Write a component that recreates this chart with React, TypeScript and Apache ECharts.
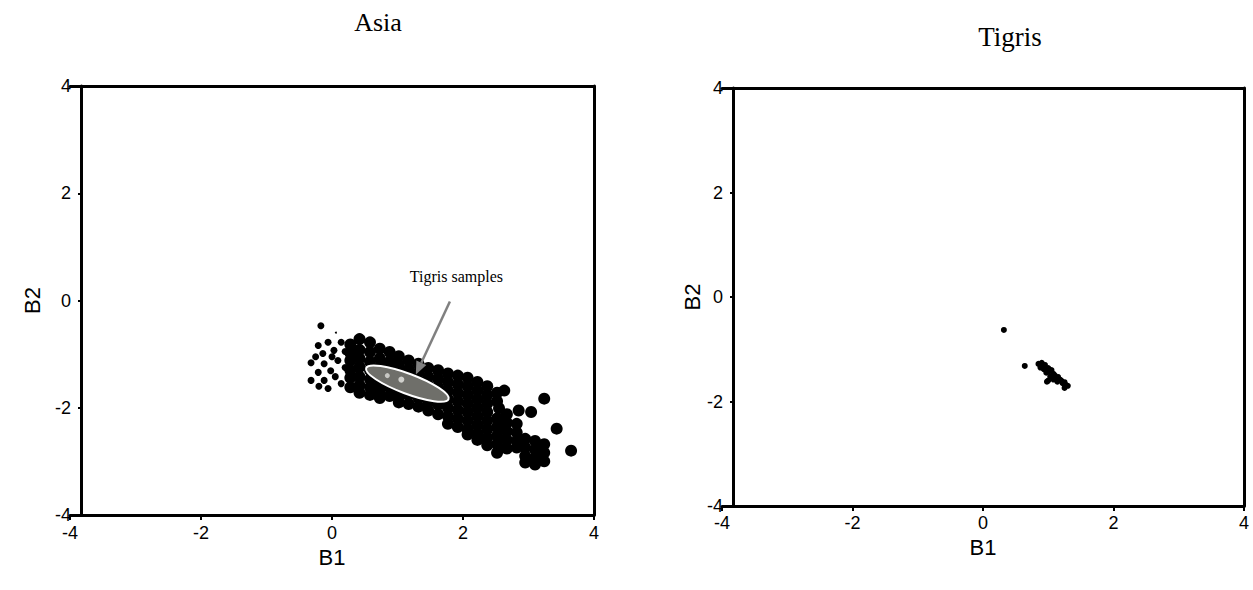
import React, { useEffect, useRef } from "react";
import * as echarts from "echarts";

const axisMin = -4;
const axisMax = 4;
const tickInterval = 2;

const titles = ["Asia", "Tigris"];
const axisNames = ["B1", "B2"];
const annotationText = "Tigris samples";

// Asia – small markers on the left edge of the cloud
const asiaSmall: [number, number][] = [
  [-0.17, -0.47], [-0.21, -0.84], [-0.06, -0.78], [0.14, -0.78], [-0.14, -0.99],
  [0.03, -0.93], [-0.32, -1.16], [-0.12, -1.18], [0.09, -1.12], [-0.21, -1.34],
  [-0.02, -1.31], [-0.32, -1.49], [-0.12, -1.49], [-0.06, -1.64], [0.14, -1.55],
  [-0.25, -1.05], [0.0, -1.05], [0.05, -1.42], [-0.2, -1.6], [0.2, -1.25],
  [0.2, -0.95],
];

// Asia – tiny isolated mark
const asiaTiny: [number, number][] = [[0.06, -0.6]];

// Asia – large markers forming the main band
const asiaLarge: [number, number][] = [
  [0.28, -0.82], [0.28, -0.98], [0.28, -1.12], [0.28, -1.3], [0.28, -1.44], [0.28, -1.62],
  [0.42, -0.72], [0.42, -0.92], [0.42, -1.08], [0.42, -1.24], [0.42, -1.42], [0.42, -1.58], [0.42, -1.72],
  [0.58, -0.78], [0.58, -0.96], [0.58, -1.14], [0.58, -1.3], [0.58, -1.47], [0.58, -1.62], [0.58, -1.76],
  [0.73, -0.9], [0.73, -1.08], [0.73, -1.24], [0.73, -1.42], [0.73, -1.56], [0.73, -1.7], [0.73, -1.82],
  [0.88, -0.96], [0.88, -1.14], [0.88, -1.3], [0.88, -1.46], [0.88, -1.62], [0.88, -1.78],
  [1.02, -1.04], [1.02, -1.2], [1.02, -1.36], [1.02, -1.52], [1.02, -1.66], [1.02, -1.82], [1.02, -1.9],
  [1.17, -1.12], [1.17, -1.28], [1.17, -1.44], [1.17, -1.6], [1.17, -1.76], [1.17, -1.93],
  [1.32, -1.18], [1.32, -1.34], [1.32, -1.5], [1.32, -1.66], [1.32, -1.82], [1.32, -1.98],
  [1.47, -1.26], [1.47, -1.42], [1.47, -1.58], [1.47, -1.74], [1.47, -1.9], [1.47, -2.05],
  [1.62, -1.3], [1.62, -1.46], [1.62, -1.62], [1.62, -1.78], [1.62, -1.94], [1.62, -2.12],
  [1.77, -1.36], [1.77, -1.52], [1.77, -1.68], [1.77, -1.84], [1.77, -2.0], [1.77, -2.16], [1.77, -2.3],
  [1.92, -1.4], [1.92, -1.56], [1.92, -1.72], [1.92, -1.88], [1.92, -2.04], [1.92, -2.2], [1.92, -2.36],
  [2.07, -1.44], [2.07, -1.6], [2.07, -1.76], [2.07, -1.92], [2.07, -2.08], [2.07, -2.24], [2.07, -2.4], [2.07, -2.5],
  [2.22, -1.52], [2.22, -1.68], [2.22, -1.84], [2.22, -2.0], [2.22, -2.16], [2.22, -2.32], [2.22, -2.48], [2.22, -2.6],
  [2.37, -1.6], [2.37, -1.76], [2.37, -1.92], [2.37, -2.08], [2.37, -2.24], [2.37, -2.4], [2.37, -2.56], [2.37, -2.7],
  [2.52, -1.72], [2.52, -1.88], [2.52, -2.2], [2.52, -2.36], [2.52, -2.52], [2.52, -2.68], [2.52, -2.84],
  [2.67, -2.12], [2.67, -2.28], [2.67, -2.44], [2.67, -2.6], [2.67, -2.76],
  [2.82, -2.3], [2.82, -2.46], [2.82, -2.62], [2.82, -2.74],
  [2.95, -2.58], [2.95, -2.74], [2.95, -2.9], [2.95, -3.02],
  [3.1, -2.62], [3.1, -2.78], [3.1, -2.94], [3.1, -3.06],
  [3.24, -2.68], [3.24, -2.84], [3.24, -3.0],
  [2.63, -1.68], [2.55, -2.01], [2.85, -2.05], [3.04, -2.08], [3.24, -1.83],
  [3.43, -2.39], [3.65, -2.8],
];

// Tigris samples
const tigris: [number, number][] = [
  [0.32, -0.63], [0.64, -1.32], [0.85, -1.28], [0.9, -1.26], [0.95, -1.3],
  [0.88, -1.35], [0.93, -1.38], [1.0, -1.36], [1.02, -1.42], [0.97, -1.45],
  [1.05, -1.4], [1.08, -1.47], [1.1, -1.5], [1.03, -1.52], [1.0, -1.6],
  [0.98, -1.62], [1.12, -1.55], [1.15, -1.53], [1.18, -1.58], [1.2, -1.6],
  [1.14, -1.62], [1.22, -1.65], [1.25, -1.63], [1.27, -1.68], [1.25, -1.74],
  [1.3, -1.7], [1.08, -1.58], [0.92, -1.32],
];

// annotation anchors in data units (left panel)
const ellipseCenter: [number, number] = [1.15, -1.55];
const arrowStart: [number, number] = [1.8, -0.02];
const arrowTip: [number, number] = [1.28, -1.38];
const labelAnchor: [number, number] = [1.9, 0.45];

const sans = "Liberation Sans, Arial, sans-serif";
const serif = "Liberation Serif, Times New Roman, serif";

export default function App() {
  const ref = useRef<HTMLDivElement>(null);
  useEffect(() => {
    document.body.style.margin = "0";
    const chart = echarts.init(ref.current!, null, { renderer: "svg" });
    const line = { color: "#000", width: 3 };
    const mainX = (gi: number, labelMargin: number, gap: number) => ({
      type: "value",
      gridIndex: gi,
      min: axisMin,
      max: axisMax,
      interval: tickInterval,
      position: "bottom",
      axisLine: { show: true, onZero: false, lineStyle: line },
      axisTick: { show: true, length: 5, lineStyle: { color: "#000", width: 2 } },
      axisLabel: { margin: labelMargin, fontSize: 18, color: "#000", fontFamily: sans },
      splitLine: { show: false },
      name: axisNames[0],
      nameLocation: "middle",
      nameGap: gap,
      nameTextStyle: { fontSize: 22, color: "#000", fontFamily: sans },
    });
    const topX = (gi: number) => ({
      type: "value",
      gridIndex: gi,
      min: axisMin,
      max: axisMax,
      position: "top",
      axisLine: { show: true, onZero: false, lineStyle: line },
      axisTick: { show: false },
      axisLabel: { show: false },
      splitLine: { show: false },
    });
    const mainY = (gi: number, gap: number) => ({
      type: "value",
      gridIndex: gi,
      min: axisMin,
      max: axisMax,
      interval: tickInterval,
      position: "left",
      offset: -11,
      axisLine: { show: true, onZero: false, lineStyle: line },
      axisTick: { show: true, length: 3, lineStyle: { color: "#000", width: 2 } },
      axisLabel: { margin: 10, fontSize: 18, color: "#000", fontFamily: sans },
      splitLine: { show: false },
      name: axisNames[1],
      nameLocation: "middle",
      nameGap: gap,
      nameTextStyle: { fontSize: 22, color: "#000", fontFamily: sans },
    });
    const rightY = (gi: number) => ({
      type: "value",
      gridIndex: gi,
      min: axisMin,
      max: axisMax,
      position: "right",
      axisLine: { show: true, onZero: false, lineStyle: line },
      axisTick: { show: false },
      axisLabel: { show: false },
      splitLine: { show: false },
    });

    const dot = { color: "#000", opacity: 1 };
    chart.setOption({
      animation: false,
      backgroundColor: "#fff",
      grid: [
        { left: 70, top: 86, width: 524, height: 429 },
        { left: 722, top: 88, width: 522, height: 418 },
      ],
      xAxis: [mainX(0, 9, 30), topX(0), mainX(1, 8, 24), topX(1)],
      yAxis: [mainY(0, 38), rightY(0), mainY(1, 13), rightY(1)],
      series: [
        {
          type: "scatter", xAxisIndex: 0, yAxisIndex: 0, data: asiaLarge,
          symbol: "circle", symbolSize: 12, itemStyle: dot, silent: true,
        },
        {
          type: "scatter", xAxisIndex: 0, yAxisIndex: 0, data: asiaSmall,
          symbol: "circle", symbolSize: 7, itemStyle: dot, silent: true,
        },
        {
          type: "scatter", xAxisIndex: 0, yAxisIndex: 0, data: asiaTiny,
          symbol: "circle", symbolSize: 2, itemStyle: dot, silent: true,
        },
        {
          type: "scatter", xAxisIndex: 2, yAxisIndex: 2, data: tigris,
          symbol: "circle", symbolSize: 6, itemStyle: dot, silent: true,
        },
      ],
    });

    const px = (pt: [number, number]) => chart.convertToPixel({ seriesIndex: 0 }, pt) as number[];
    const c = px(ellipseCenter);
    const a0 = px(arrowStart);
    const a1 = px(arrowTip);
    const lab = px(labelAnchor);
    const dx = a1[0] - a0[0];
    const dy = a1[1] - a0[1];
    const len = Math.hypot(dx, dy);
    const ux = dx / len;
    const uy = dy / len;
    const headL = 13;
    const headW = 5.5;
    const bx = a1[0] - ux * headL;
    const by = a1[1] - uy * headL;

    chart.setOption({
      graphic: [
        {
          type: "text", x: 378, y: 22,
          style: { text: titles[0], fontSize: 26, fontFamily: serif, fill: "#000", textAlign: "center", textVerticalAlign: "middle" },
        },
        {
          type: "text", x: 1010, y: 37,
          style: { text: titles[1], fontSize: 27, fontFamily: serif, fill: "#000", textAlign: "center", textVerticalAlign: "middle" },
        },
        {
          type: "ellipse", x: c[0], y: c[1], rotation: -0.36,
          shape: { cx: 0, cy: 0, rx: 44, ry: 10 },
          style: { fill: "#6f6f6a", stroke: "#fff", lineWidth: 2 },
          z: 100,
        },
        { type: "circle", x: c[0] - 20, y: c[1] - 8, shape: { r: 2.5 }, style: { fill: "#c8c8c4" }, z: 101 },
        { type: "circle", x: c[0] - 6, y: c[1] - 4, shape: { r: 3 }, style: { fill: "#d0d0cc" }, z: 101 },
        {
          type: "line",
          shape: { x1: a0[0], y1: a0[1], x2: bx, y2: by },
          style: { stroke: "#808080", lineWidth: 2.5 },
          z: 102,
        },
        {
          type: "polygon",
          shape: {
            points: [
              [a1[0], a1[1]],
              [bx - uy * headW, by + ux * headW],
              [bx + uy * headW, by - ux * headW],
            ],
          },
          style: { fill: "#808080" },
          z: 102,
        },
        {
          type: "text", x: lab[0], y: lab[1],
          style: { text: annotationText, fontSize: 16, fontFamily: serif, fill: "#000", textAlign: "center", textVerticalAlign: "middle" },
          z: 102,
        },
      ],
    });
    return () => chart.dispose();
  }, []);
  return <div ref={ref} style={{ width: 1253, height: 590 }} />;
}
